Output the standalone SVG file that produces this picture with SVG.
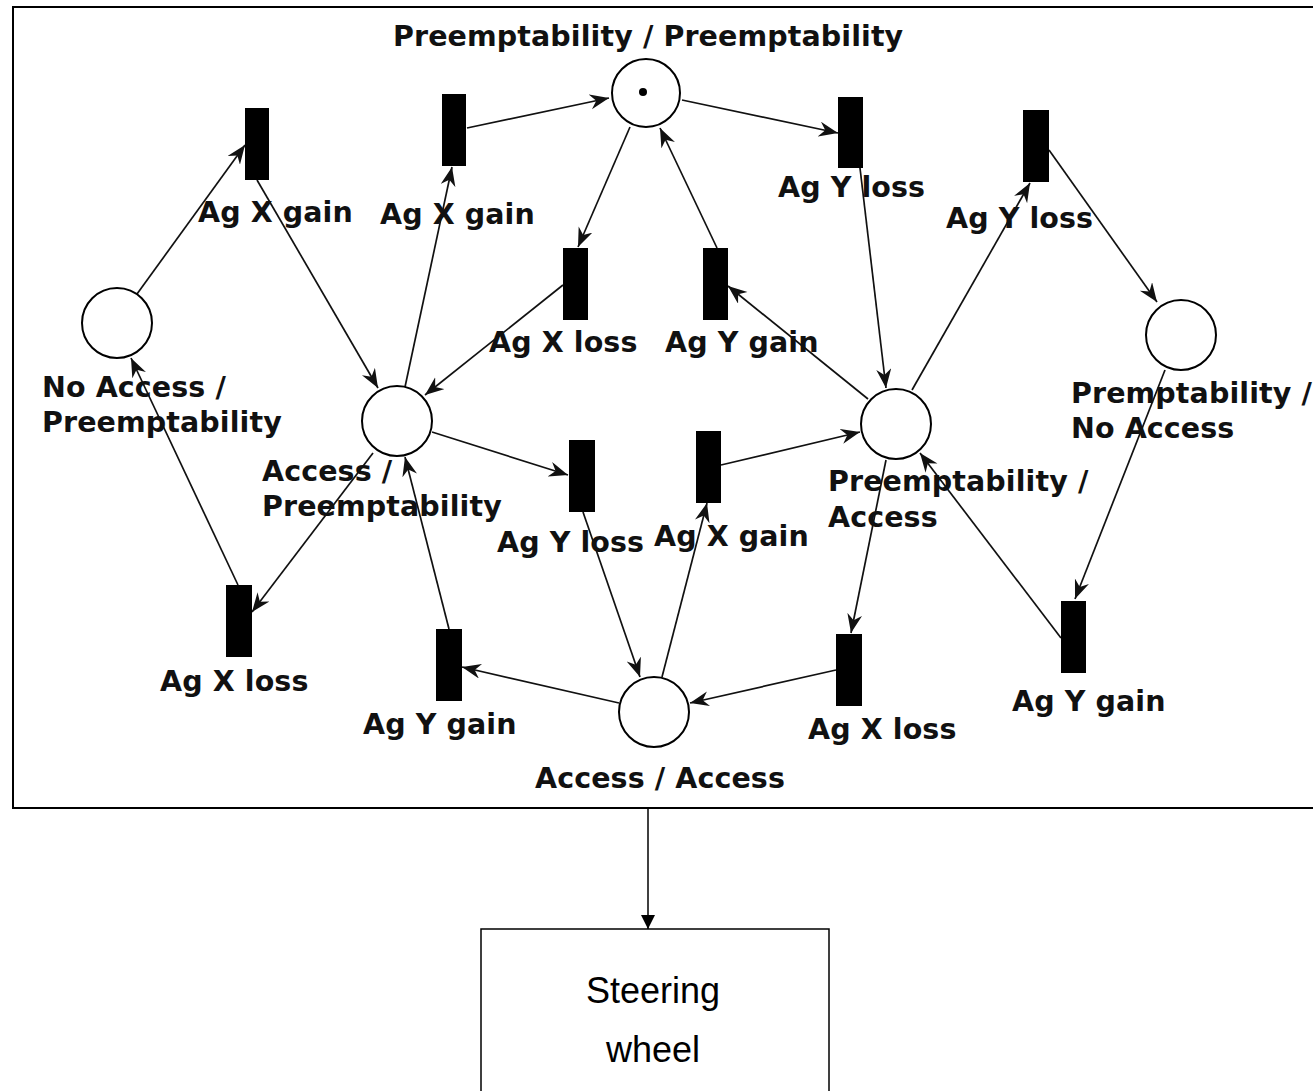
<svg xmlns="http://www.w3.org/2000/svg" width="1313" height="1091" viewBox="0 0 1313 1091">
  <style>
    .place { fill: #ffffff; stroke: #000000; stroke-width: 2; }
    .trans { fill: #000000; }
    .lbl { font-family: "DejaVu Sans", "Liberation Sans", sans-serif; font-weight: bold; font-size: 28.5px; letter-spacing: 0.1px; fill: #111111; }
    .arc { stroke: #111111; stroke-width: 1.7; fill: none; marker-end: url(#barb); }
    .frame { fill: #ffffff; stroke: #000000; stroke-width: 2; }
    .box { fill: #ffffff; stroke: #000000; stroke-width: 1.5; }
    .boxtext { font-family: "Liberation Sans", Arial, sans-serif; font-size: 36px; fill: #000000; text-anchor: middle; }
  </style>
  <defs>
    <marker id="barb" markerUnits="userSpaceOnUse" markerWidth="22" markerHeight="16" refX="19" refY="7.5" orient="auto">
      <path d="M0,0 L19,7.5 L0,15 L6,7.5 Z" fill="#111111"/>
    </marker>
    <marker id="tri" markerUnits="userSpaceOnUse" markerWidth="16" markerHeight="16" refX="14" refY="7" orient="auto">
      <path d="M0,0 L14,7 L0,14 Z" fill="#000000"/>
    </marker>
  </defs>

  <rect x="0" y="0" width="1313" height="1091" fill="#ffffff"/>

  <!-- Petri net frame -->
  <rect class="frame" x="13" y="7" width="1320" height="801"/>

  <!-- arcs of the net -->
  <g id="arcs">
    <line class="arc" x1="137" y1="294" x2="245" y2="145"/>
    <line class="arc" x1="257" y1="180" x2="378" y2="388"/>
    <line class="arc" x1="405" y1="387" x2="452" y2="167"/>
    <line class="arc" x1="467" y1="128" x2="609" y2="98"/>
    <line class="arc" x1="682" y1="100" x2="838" y2="133"/>
    <line class="arc" x1="630" y1="127" x2="578" y2="247"/>
    <line class="arc" x1="717" y1="248" x2="660" y2="128"/>
    <line class="arc" x1="563" y1="285" x2="425" y2="395"/>
    <line class="arc" x1="868" y1="399" x2="728" y2="286"/>
    <line class="arc" x1="860" y1="168" x2="886" y2="388"/>
    <line class="arc" x1="912" y1="390" x2="1030" y2="183"/>
    <line class="arc" x1="1049" y1="150" x2="1157" y2="302"/>
    <line class="arc" x1="1165" y1="370" x2="1075" y2="599"/>
    <line class="arc" x1="1061" y1="638" x2="920" y2="453"/>
    <line class="arc" x1="886" y1="460" x2="851" y2="633"/>
    <line class="arc" x1="836" y1="670" x2="690" y2="703"/>
    <line class="arc" x1="619" y1="703" x2="462" y2="667"/>
    <line class="arc" x1="449" y1="629" x2="405" y2="457"/>
    <line class="arc" x1="373" y1="453" x2="252" y2="612"/>
    <line class="arc" x1="238" y1="585" x2="131" y2="358"/>
    <line class="arc" x1="432" y1="432" x2="568" y2="475"/>
    <line class="arc" x1="583" y1="512" x2="640" y2="677"/>
    <line class="arc" x1="662" y1="677" x2="707" y2="503"/>
    <line class="arc" x1="721" y1="465" x2="860" y2="432"/>
  </g>

  <!-- places -->
  <g id="place-pre-pre">
    <circle class="place" cx="646" cy="93" r="34"/>
    <circle cx="643" cy="92" r="4" fill="#000000"/>
    <text class="lbl" x="393" y="46">Preemptability / Preemptability</text>
  </g>
  <g id="place-noacc-pre">
    <circle class="place" cx="117" cy="323" r="35"/>
    <text class="lbl" x="42" y="397">No Access /</text>
    <text class="lbl" x="42" y="432">Preemptability</text>
  </g>
  <g id="place-acc-pre">
    <circle class="place" cx="397" cy="421" r="35"/>
    <text class="lbl" x="262" y="481">Access /</text>
    <text class="lbl" x="262" y="516">Preemptability</text>
  </g>
  <g id="place-pre-acc">
    <circle class="place" cx="896" cy="424" r="35"/>
    <text class="lbl" x="828" y="491">Preemptability /</text>
    <text class="lbl" x="828" y="527">Access</text>
  </g>
  <g id="place-pre-noacc">
    <circle class="place" cx="1181" cy="335" r="35"/>
    <text class="lbl" x="1071" y="403">Premptability /</text>
    <text class="lbl" x="1071" y="438">No Access</text>
  </g>
  <g id="place-acc-acc">
    <circle class="place" cx="654" cy="712" r="35"/>
    <text class="lbl" x="535" y="788">Access / Access</text>
  </g>

  <!-- transitions -->
  <g id="t-x-gain-1">
    <rect class="trans" x="245" y="108" width="24" height="72"/>
    <text class="lbl" x="198" y="222">Ag X gain</text>
  </g>
  <g id="t-x-gain-2">
    <rect class="trans" x="442" y="94" width="24" height="72"/>
    <text class="lbl" x="380" y="224">Ag X gain</text>
  </g>
  <g id="t-y-loss-1">
    <rect class="trans" x="838" y="97" width="25" height="71"/>
    <text class="lbl" x="778" y="197">Ag Y loss</text>
  </g>
  <g id="t-y-loss-2">
    <rect class="trans" x="1023" y="110" width="26" height="72"/>
    <text class="lbl" x="946" y="228">Ag Y loss</text>
  </g>
  <g id="t-x-loss-1">
    <rect class="trans" x="563" y="248" width="25" height="72"/>
    <text class="lbl" x="489" y="352">Ag X loss</text>
  </g>
  <g id="t-y-gain-1">
    <rect class="trans" x="703" y="248" width="25" height="72"/>
    <text class="lbl" x="665" y="352">Ag Y gain</text>
  </g>
  <g id="t-y-loss-3">
    <rect class="trans" x="569" y="440" width="26" height="72"/>
    <text class="lbl" x="497" y="552">Ag Y loss</text>
  </g>
  <g id="t-x-gain-3">
    <rect class="trans" x="696" y="431" width="25" height="72"/>
    <text class="lbl" x="654" y="546">Ag X gain</text>
  </g>
  <g id="t-x-loss-2">
    <rect class="trans" x="226" y="585" width="26" height="72"/>
    <text class="lbl" x="160" y="691">Ag X loss</text>
  </g>
  <g id="t-y-gain-2">
    <rect class="trans" x="436" y="629" width="26" height="72"/>
    <text class="lbl" x="363" y="734">Ag Y gain</text>
  </g>
  <g id="t-x-loss-3">
    <rect class="trans" x="836" y="634" width="26" height="72"/>
    <text class="lbl" x="808" y="739">Ag X loss</text>
  </g>
  <g id="t-y-gain-3">
    <rect class="trans" x="1061" y="601" width="25" height="72"/>
    <text class="lbl" x="1012" y="711">Ag Y gain</text>
  </g>

  <!-- link from the net to the steering wheel -->
  <g id="connectors">
    <line x1="648" y1="808" x2="648" y2="929" stroke="#000000" stroke-width="1.5" marker-end="url(#tri)"/>
  </g>

  <g id="steering-wheel">
    <rect class="box" x="481" y="929" width="348" height="170"/>
    <text class="boxtext" x="653" y="1003">Steering</text>
    <text class="boxtext" x="653" y="1062">wheel</text>
  </g>
</svg>
